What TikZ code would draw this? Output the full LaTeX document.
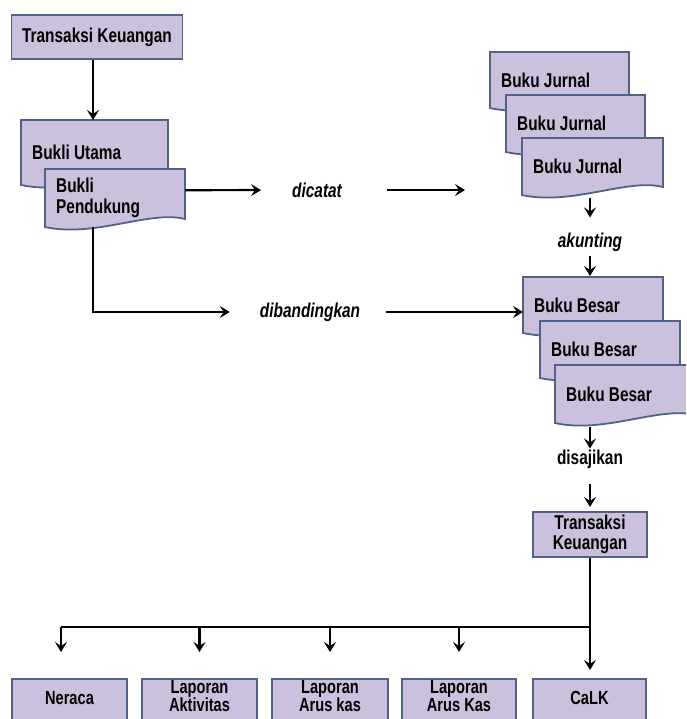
\documentclass[tikz,border=0pt]{standalone}
\usepackage{fontspec}
\setmainfont{Liberation Sans}[FakeStretch=0.77]
\usetikzlibrary{arrows.meta}
\definecolor{isiungu}{RGB}{204,193,220}
\definecolor{garisbiru}{RGB}{80,98,138}
\tikzset{
  kotak/.style={draw=garisbiru, fill=isiungu, line width=1.8pt, align=center, inner sep=2pt, font=\bfseries\fontsize{20}{20}\selectfont},
  laporan/.style={kotak, anchor=north, text depth=14pt, font=\bfseries\fontsize{19}{18}\selectfont},
  laporansatu/.style={laporan, text height=24pt, text depth=22pt},
  dokbox/.style={inner sep=0pt, draw=none},
  dokgaris/.style={draw=garisbiru, fill=isiungu, line width=1.8pt},
  doktext/.style={align=left, inner sep=0pt, font=\bfseries\fontsize{20}{21}\selectfont},
  ket/.style={inner sep=0pt, font=\bfseries\itshape\fontsize{20}{21}\selectfont},
  ketlurus/.style={inner sep=0pt, font=\bfseries\fontsize{20}{21}\selectfont},
  panah/.style={line width=2.2pt, -{Stealth[length=10pt,width=12pt,inset=4pt]}}
}
%% dokumen: nama, x, y, lebar, tinggi, teks
\newcommand{\dok}[6]{%
  \node[dokbox, minimum width=#4, minimum height=#5, anchor=north west] (#1) at (#2,#3) {};
  \filldraw[dokgaris] (#2,#3) -- ({#2+#4},#3) -- ({#2+#4},{#3+#5-8})
    .. controls ({#2+0.75*#4},{#3+#5-17}) and ({#2+0.35*#4},{#3+#5+11}) .. (#2,{#3+#5}) -- cycle;
  \node[doktext, anchor=west] (#1-teks) at ([xshift=11pt]#1.west) {#6};
}
\begin{document}
\begin{tikzpicture}[x=1pt,y=-1pt]
        \clip (0,0) rectangle (686,719);
        %% sumber
        \node[kotak, minimum width=171, minimum height=44] (tk1) at (97,37) {Transaksi Keuangan};
        \dok{bu}{21}{120}{147}{65}{Bukli Utama}
        \dok{bp}{45}{169}{140}{58}{Bukli\\Pendukung}
        \draw[panah] ([xshift=-4pt]tk1.south) -- ([xshift=-4pt]tk1.south |- bu.north);
        %% buku jurnal
        \dok{bj1}{490}{52}{139}{56}{Buku Jurnal}
        \dok{bj2}{506}{95}{139}{57}{Buku Jurnal}
        \dok{bj3}{522}{138}{141}{57}{Buku Jurnal}
        %% buku besar
        \dok{bb1}{523}{277}{140}{56}{Buku Besar}
        \dok{bb2}{540}{321}{140}{57}{Buku Besar}
        \dok{bb3}{555}{365}{140}{58}{Buku Besar}
        %% keterangan
        \node[ket] (catat) at (317,190) {dicatat};
        \node[ket] (banding) at (310,312) {dibandingkan};
        \node[ket] (akun) at (590,242) {akunting};
        \node[ketlurus] (saji) at (590,459) {disajikan};
        \draw[panah, shorten >=31pt] ([yshift=8pt]bp.east) -- (catat.west);
        \draw[panah, shorten <=45pt, shorten >=57pt] (catat.east) -- (catat.east -| bj3.west);
        \draw[panah, shorten >=30pt] ([xshift=-22pt]bp.south) |- (banding.west);
        \draw[panah, shorten <=26pt] (banding.east) -- (banding.east -| bb1.west);
        \draw[panah, shorten <=3pt, shorten >=15pt] (akun.north |- bj3.south) -- (akun.north);
        \draw[panah, shorten <=4pt, shorten >=1pt] (akun.south) -- (akun.south |- bb1.north);
        \draw[panah, shorten <=4pt, shorten >=1pt] (saji.north |- bb3.south) -- (saji.north);
        \draw[panah, shorten <=15pt, shorten >=5pt] (saji.south) -- (saji.south |- 590,512);
        %% laporan
        \node[kotak, minimum width=114, minimum height=45] (tk2) at (590,534.5) {Transaksi\\Keuangan};
        \node[laporansatu, minimum width=115] (nrc) at (69.5,678) {Neraca};
        \node[laporan, minimum width=115] (akt) at (199.5,678) {Laporan\\Aktivitas};
        \node[laporan, minimum width=116] (ak1) at (330,678) {Laporan\\Arus kas};
        \node[laporan, minimum width=114] (ak2) at (459,678) {Laporan\\Arus Kas};
        \node[laporansatu, minimum width=113] (calk) at (589.5,678) {CaLK};
        \coordinate (cabang) at ([yshift=-69pt]tk2.south);
        \draw[panah, shorten >=8pt] (tk2.south) -- (tk2.south |- calk.north);
        \draw[line width=2.2pt] (cabang) -- ([xshift=-8.5pt]cabang -| nrc.north);
        \draw[panah, shorten >=26pt] ([xshift=-8.5pt]cabang -| nrc.north) -- ([xshift=-8.5pt]nrc.north);
        \foreach \k in {akt,ak1,ak2}
          \draw[panah, shorten >=26pt] (cabang -| \k.north) -- (\k.north);
\end{tikzpicture}
\end{document}
